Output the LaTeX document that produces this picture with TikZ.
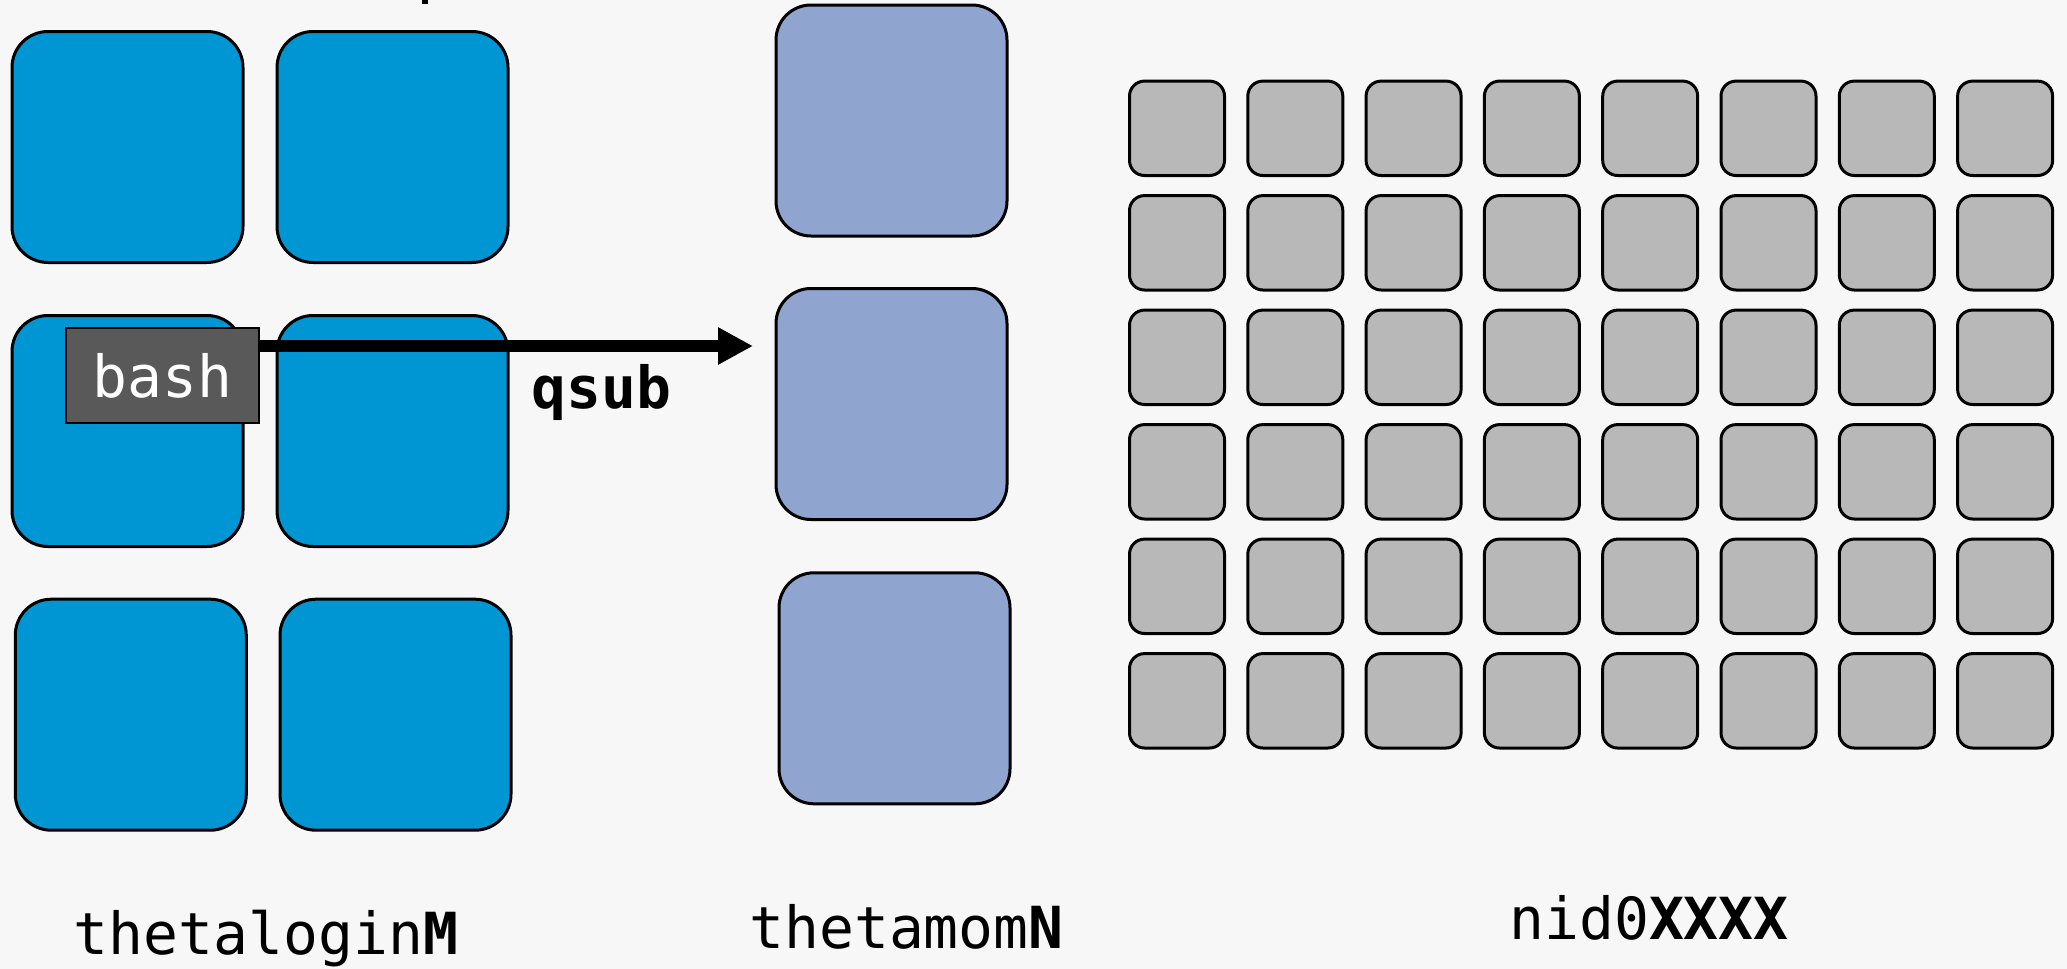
\documentclass[tikz,border=0pt]{standalone}
\usepackage{fontspec}
\setmonofont{DejaVu Sans Mono}
\usetikzlibrary{arrows.meta}

\definecolor{paper}{HTML}{F7F7F7}
\definecolor{loginblue}{HTML}{0096D4}
\definecolor{momblue}{HTML}{8FA4CE}
\definecolor{nodegray}{HTML}{B8B8B8}
\definecolor{shellgray}{HTML}{595959}

\begin{document}
\begin{tikzpicture}[x=0.5pt,y=-0.5pt,
  every node/.style={inner sep=0pt, outer sep=0pt},
  loginbox/.style={draw=black, line width=1.5pt, fill=loginblue,
    rounded corners=18pt, minimum width=115.5pt, minimum height=115.5pt},
  mombox/.style={draw=black, line width=1.5pt, fill=momblue,
    rounded corners=17.5pt, minimum width=115.5pt, minimum height=115.5pt},
  computebox/.style={draw=black, line width=1.5pt, fill=nodegray,
    rounded corners=7.5pt, minimum width=47.5pt, minimum height=47.2pt},
  shellbox/.style={draw=black, line width=1pt, fill=shellgray,
    minimum width=96.5pt, minimum height=47.8pt},
  nametext/.style={font=\ttfamily\fontsize{29pt}{35pt}\selectfont,
    text=black, anchor=base},
  submit/.style={line width=5.85pt,
    -{Triangle[length=17.5pt, width=17.5pt]}}]

% page background, also fixing the picture's extent
\fill[paper] (0,0) rectangle (2067,969);
\useasboundingbox (0,0) rectangle (2067,969);

% foot of a line of text cut off by the top edge
\fill[black] (421.7,0) rectangle (427.7,3.5);

% login nodes
\node[loginbox] (l11) at (127.5,147) {};
\node[loginbox] (l12) at (392.5,147) {};
\node[loginbox] (l21) at (127.5,431) {};
\node[loginbox] (l22) at (392.5,431) {};
\node[loginbox] (l31) at (130.8,714.7) {};
\node[loginbox] (l32) at (395.5,714.7) {};

% mom nodes
\node[mombox] (m1) at (891.5,120.5) {};
\node[mombox] (m2) at (891.5,404) {};
\node[mombox] (m3) at (894.5,688.3) {};

% compute nodes, 8 columns by 6 rows
\foreach \i in {0,...,7}{
  \foreach \j in {0,...,5}{
    \node[computebox] (c-\i-\j) at (1177+118.3*\i,128.3+114.5*\j) {};
  }
}

% shell on a login node and the job submission
\node[shellbox] (bash) at (162.4,375.5) {};
\node[nametext, text=white] (bashtext) at (162.4,397) {bash};
\coordinate (qtip) at (753,346);
\draw[submit] (bash.east |- qtip) -- (qtip);
\node[nametext, font=\ttfamily\bfseries\fontsize{29pt}{35pt}\selectfont]
  (qsub) at (601.5,408) {qsub};

% host names
\node[nametext] (loginname) at (266,954) {thetalogin\textbf{M}};
\node[nametext] (momname) at (906.5,948) {thetamom\textbf{N}};
\node[nametext] (nidname) at (1649,939) {nid0\textbf{XXXX}};
\end{tikzpicture}
\end{document}
